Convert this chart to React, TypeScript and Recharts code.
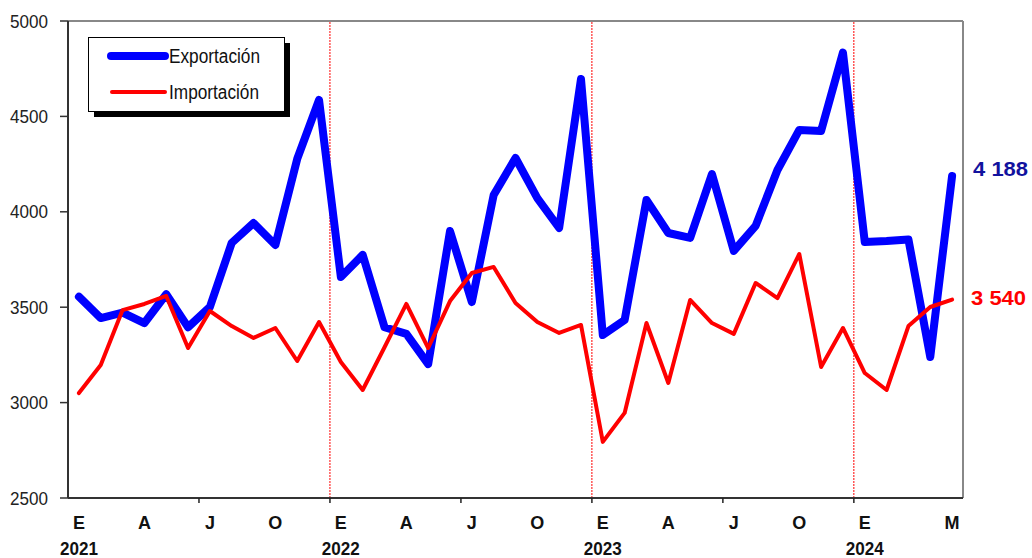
import React from 'react';
import { LineChart, Line, XAxis, YAxis, ReferenceLine } from 'recharts';

// monthly values, E 2021 .. M 2024
const exportacion = [
  3555, 3443, 3472, 3417, 3568, 3395, 3501, 3837, 3941, 3826, 4277, 4586,
  3658, 3774, 3395, 3360, 3202, 3899, 3527, 4088, 4282, 4072, 3915, 4696,
  3354, 3433, 4062, 3889, 3863, 4198, 3795, 3926, 4219, 4429, 4424, 4835,
  3842, 3847, 3855, 3239, 4188,
];

const importacion = [
  3050, 3197, 3485, 3517, 3559, 3286, 3480, 3401, 3339, 3391, 3218, 3422,
  3213, 3066, 3290, 3517, 3286, 3532, 3679, 3711, 3522, 3422, 3365, 3407,
  2794, 2946, 3417, 3103, 3538, 3417, 3360, 3627, 3548, 3779, 3187, 3391,
  3155, 3066, 3401, 3501, 3540,
];

const xLabels: { i: number; mes: string; anio?: string }[] = [
  { i: 0, mes: 'E', anio: '2021' }, { i: 3, mes: 'A' }, { i: 6, mes: 'J' }, { i: 9, mes: 'O' },
  { i: 12, mes: 'E', anio: '2022' }, { i: 15, mes: 'A' }, { i: 18, mes: 'J' }, { i: 21, mes: 'O' },
  { i: 24, mes: 'E', anio: '2023' }, { i: 27, mes: 'A' }, { i: 30, mes: 'J' }, { i: 33, mes: 'O' },
  { i: 36, mes: 'E', anio: '2024' }, { i: 40, mes: 'M' },
];

const tickMarks = [5.5, 11.5, 17.5, 23.5, 29.5, 35.5];
const yearBreaks = [11.5, 23.5, 35.5];
const yTicks = [2500, 3000, 3500, 4000, 4500, 5000];

const data = exportacion.map((v, i) => ({ i, exp: v, imp: importacion[i] }));
const FONT = "'Liberation Sans', Arial, sans-serif";

const XTick = (props: any) => {
  const { x, y, payload } = props;
  const v = payload.value;
  if (!Number.isInteger(v)) {
    return <line x1={x} x2={x} y1={y} y2={y + 5} stroke="#222" strokeWidth={1.5} />;
  }
  const lab = xLabels.find((l) => l.i === v);
  if (!lab) return <g />;
  return (
    <g fontFamily={FONT} fontWeight="bold" fill="#111">
      <text x={x} y={y + 25} textAnchor="middle" dominantBaseline="central" fontSize={18}>
        {lab.mes}
      </text>
      {lab.anio && (
        <text x={x} y={y + 50} textAnchor="middle" dominantBaseline="central" fontSize={18.5}
          textLength={38} lengthAdjust="spacingAndGlyphs">
          {lab.anio}
        </text>
      )}
    </g>
  );
};

const YTick = (props: any) => {
  const { x, y, payload } = props;
  return (
    <text x={x} y={y} textAnchor="end" dominantBaseline="central" fontFamily={FONT}
      fontSize={18.5} fill="#222" textLength={38} lengthAdjust="spacingAndGlyphs">
      {payload.value}
    </text>
  );
};

const endLabel = (color: string, dx: number, dy: number) => (p: any) => {
  if (p.index !== exportacion.length - 1) return <g key={p.index} />;
  return (
    <text key={p.index} x={p.x + dx} y={p.y + dy} dominantBaseline="central" fontFamily={FONT}
      fontWeight="bold" fontSize={20} fill={color} textLength={55} lengthAdjust="spacingAndGlyphs">
      {Number(p.value).toLocaleString('en-US').replace(',', ' ')}
    </text>
  );
};

export default function App() {
  return (
    <div style={{ position: 'absolute', left: 0, top: 0, width: 1032, height: 558, background: '#fff' }}>
      <LineChart width={1032} height={558} data={data} margin={{ top: 21, right: 69, bottom: 0, left: 0 }}>
        <XAxis
          dataKey="i"
          type="number"
          domain={[-0.5, 40.5]}
          ticks={[...xLabels.map((l) => l.i), ...tickMarks].sort((a, b) => a - b)}
          interval={0}
          tick={<XTick />}
          tickLine={false}
          tickSize={0}
          tickMargin={0}
          height={60}
          axisLine={{ stroke: '#333', strokeWidth: 2 }}
        />
        <YAxis
          domain={[2500, 5000]}
          ticks={yTicks}
          width={68}
          tick={<YTick />}
          tickSize={8}
          tickMargin={12}
          tickLine={{ stroke: '#333', strokeWidth: 1.5 }}
          axisLine={{ stroke: '#333', strokeWidth: 2 }}
        />
        <ReferenceLine y={5000} stroke="#888" strokeWidth={2} />
        <ReferenceLine x={40.5} stroke="#888" strokeWidth={2} />
        {yearBreaks.map((b) => (
          <ReferenceLine key={b} x={b} stroke="#ff0000" strokeWidth={1} strokeDasharray="2 1" />
        ))}
        <Line
          dataKey="exp"
          stroke="#0000ff"
          strokeWidth={8}
          strokeLinejoin="round"
          strokeLinecap="round"
          dot={false}
          isAnimationActive={false}
          label={endLabel('#12129e', 21, -7)}
        />
        <Line
          dataKey="imp"
          stroke="#ff0000"
          strokeWidth={4}
          strokeLinejoin="round"
          strokeLinecap="round"
          dot={false}
          isAnimationActive={false}
          label={endLabel('#ff0000', 19, -2)}
        />
      </LineChart>
      <svg width={1032} height={558} style={{ position: 'absolute', left: 0, top: 0, pointerEvents: 'none' }}>
        <rect x={94} y={43} width={196} height={74} fill="#000" />
        <rect x={88.5} y={37.5} width={196} height={74} fill="#fff" stroke="#000" strokeWidth={1} />
        <line x1={111} x2={165} y1={56} y2={56} stroke="#0000ff" strokeWidth={8} strokeLinecap="round" />
        <line x1={112} x2={165} y1={92} y2={92} stroke="#ff0000" strokeWidth={4} strokeLinecap="round" />
        <g fontFamily={FONT} fontSize={19.5} fill="#111">
          <text x={169} y={56} dominantBaseline="central" textLength={91} lengthAdjust="spacingAndGlyphs">
            Exportación
          </text>
          <text x={169} y={92} dominantBaseline="central" textLength={90} lengthAdjust="spacingAndGlyphs">
            Importación
          </text>
        </g>
      </svg>
    </div>
  );
}
